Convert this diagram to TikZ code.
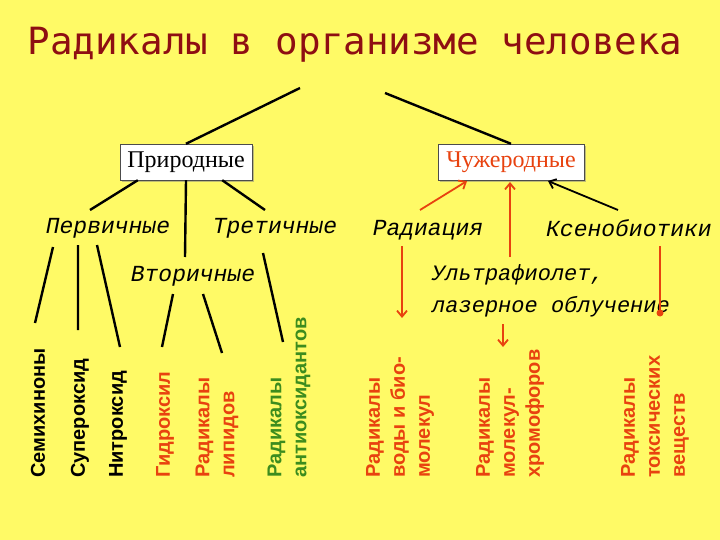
\documentclass[tikz,border=0pt]{standalone}
\usepackage{fontspec}
\setmainfont{Liberation Serif}
\newfontfamily\monoit{Liberation Mono}
\newfontfamily\titlef{DejaVu Sans Mono}
\newfontfamily\vlab{Liberation Sans}
\usetikzlibrary{arrows.meta,shadows}
\definecolor{bg}{HTML}{FFFA66}
\definecolor{rr}{HTML}{E8420F}
\definecolor{gg}{HTML}{3C8C1E}
\definecolor{tt}{HTML}{8E0E12}
\begin{document}
\begin{tikzpicture}[x=1pt,y=-1pt,
  box/.style={draw=black!70,fill=white,minimum height=36pt,font=\fontsize{24}{26}\selectfont,drop shadow={shadow xshift=2pt,shadow yshift=-2pt,fill=black!50}},
  it/.style={font=\monoit\itshape\fontsize{23}{32}\selectfont,inner sep=0pt},
  vl/.style={rotate=90,anchor=west,align=left,inner sep=0pt,font=\vlab\bfseries\fontsize{20}{25}\selectfont},
  ln/.style={line width=2.4pt},
  ra/.style={line width=1.8pt,rr,-{Straight Barb[length=6pt,width=10pt]}}]
\fill[bg] (0,0) rectangle (720,540);
\node[font=\titlef\fontsize{37.5}{40}\selectfont,text=tt] (title) at (355,45) {Радикалы в организме человека};
\node[box,minimum width=132pt] (pr) at (186,162) {Природные};
\node[box,minimum width=146pt,text=rr] (ch) at (511,162) {Чужеродные};
\coordinate (t1) at (300,88); \coordinate (t2) at (385,93);
\draw[ln] (t1) -- (pr.north);
\draw[ln] (t2) -- (ch.north);
\node[it] (p1) at (108,228) {Первичные};
\node[it] (p3) at (275,228) {Третичные};
\node[it] (p2) at (193,276) {Вторичные};
\node[it] (rad) at (428,230) {Радиация};
\node[it,anchor=east] (ks) at (712,228) {Ксенобиотики};
\node[it,align=left,anchor=north west,font=\monoit\itshape\fontsize{22}{32}\selectfont] (uf) at (432,264) {Ультрафиолет,\\лазерное облучение};
\coordinate (p2t) at (185,257);
\draw[ln] (pr.south west)++(18,0) -- (90,210);
\draw[ln] (pr.south) -- (p2t);
\draw[ln] (pr.south east)++(-30,0) -- (265,210);
% vertical labels
\node[vl] (v1) at (38,478) {Семихиноны};
\node[vl] (v2) at (80,478) {Супероксид};
\node[vl] (v3) at (118,478) {Нитроксид};
\node[vl,text=rr] (v4) at (165,478) {Гидроксил};
\node[vl,text=rr] (v5) at (217,478) {Радикалы\\липидов};
\node[vl,text=gg] (v6) at (289,478) {Радикалы\\антиоксидантов};
\node[vl,text=rr] (v7) at (400,478) {Радикалы\\воды и био-\\молекул};
\node[vl,text=rr] (v8) at (510,478) {Радикалы\\молекул-\\хромофоров};
\node[vl,text=rr] (v9) at (655,478) {Радикалы\\токсических\\веществ};
\coordinate (a1) at (53,247); \coordinate (b1) at (35,323);
\coordinate (a2) at (78,245); \coordinate (b2) at (78,330);
\coordinate (a3) at (97,245); \coordinate (b3) at (120,347);
\coordinate (a4) at (173,294); \coordinate (b4) at (162,347);
\coordinate (a5) at (203,294); \coordinate (b5) at (222,353);
\coordinate (a6) at (263,253); \coordinate (b6) at (283,342);
\draw[ln] (a1)--(b1) (a2)--(b2) (a3)--(b3) (a4)--(b4) (a5)--(b5) (a6)--(b6);
\draw[ra] (420,210) -- (467,181);
\draw[ra] (510,257) -- (510,182);
\draw[line width=1.8pt,-{Straight Barb[length=6pt,width=10pt]}] (618,210) -- (548,181);
\draw[ra] (402,246) -- (402,318);
\draw[ra] (503,324) -- (503,347);
\draw[line width=1.4pt,rr] (660,246) -- (660,312);
\fill[rr] (660,313) circle (3.5pt);
\end{tikzpicture}
\end{document}
